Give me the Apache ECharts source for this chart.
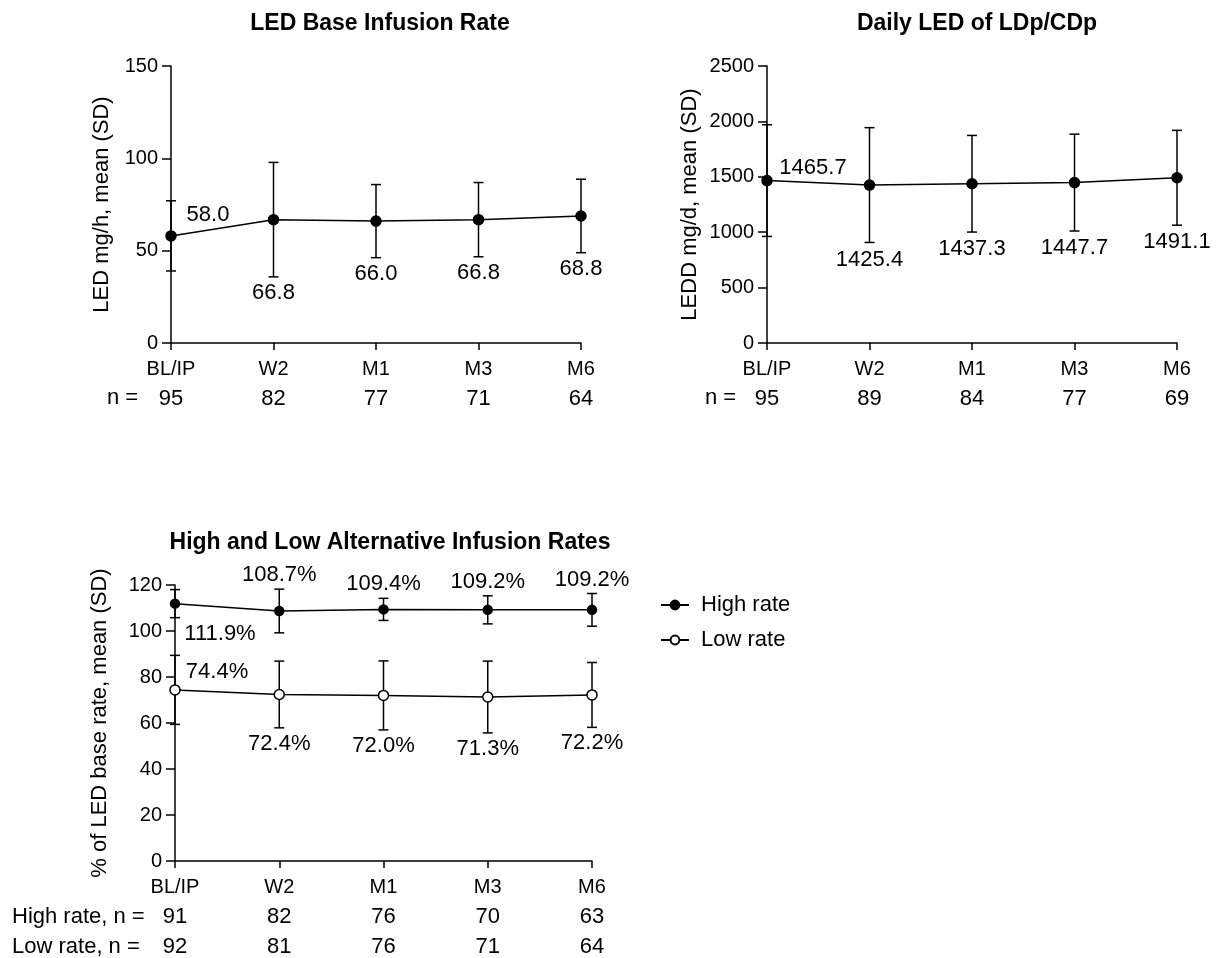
<!DOCTYPE html>
<html><head><meta charset="utf-8">
<script src="https://cdn.jsdelivr.net/npm/echarts@6/dist/echarts.min.js"></script>
<style>html,body{margin:0;padding:0;background:#fff}#c{width:1220px;height:958px}</style>
</head><body><div id="c"></div>
<script>
const categories = ['BL/IP', 'W2', 'M1', 'M3', 'M6'];

const baseRateMean = [58.0, 66.8, 66.0, 66.8, 68.8];
const baseRateSD   = [19.0, 31.0, 19.8, 20.1, 19.9];
const baseRateN    = [95, 82, 77, 71, 64];

const leddMean = [1465.7, 1425.4, 1437.3, 1447.7, 1491.1];
const leddSD   = [504, 518, 436, 437, 428];
const leddN    = [95, 89, 84, 77, 69];

const highMean = [111.9, 108.7, 109.4, 109.2, 109.2];
const highSD   = [6.1, 9.5, 4.8, 6.1, 7.1];
const highN    = [91, 82, 76, 70, 63];

const lowMean = [74.4, 72.4, 72.0, 71.3, 72.2];
const lowSD   = [15.0, 14.5, 15.0, 15.6, 14.1];
const lowN    = [92, 81, 76, 71, 64];

const titles = ['LED Base Infusion Rate', 'Daily LED of LDp/CDp', 'High and Low Alternative Infusion Rates'];
const yNames = ['LED mg/h, mean (SD)', 'LEDD mg/d, mean (SD)', '% of LED base rate, mean (SD)'];

const FONT = "'Liberation Sans', Arial, sans-serif";
const BLACK = '#000';

function errSeries(gridIdx, mean, sd, opt) {
  return {
    type: 'custom',
    xAxisIndex: gridIdx, yAxisIndex: gridIdx,
    z: 1,
    silent: true,
    data: mean.map((m, i) => [i, m, sd[i]]),
    renderItem: function (params, api) {
      const i = api.value(0), m = api.value(1), s = api.value(2);
      const top = api.coord([i, m + s]);
      const bot = api.coord([i, m - s]);
      const ctr = api.coord([i, m]);
      const hw = 5;
      const ls = { stroke: BLACK, lineWidth: 1.5 };
      let tx, ty;
      if (i === 0) { tx = ctr[0] + opt.first[0]; ty = ctr[1] + opt.first[1]; }
      else if (opt.side === 'above') { tx = top[0]; ty = top[1] - opt.gap; }
      else { tx = bot[0]; ty = bot[1] + opt.gap; }
      return {
        type: 'group',
        children: [
          { type: 'line', shape: { x1: top[0], y1: top[1], x2: bot[0], y2: bot[1] }, style: ls },
          { type: 'line', shape: { x1: top[0] - hw, y1: top[1], x2: top[0] + hw, y2: top[1] }, style: ls },
          { type: 'line', shape: { x1: bot[0] - hw, y1: bot[1], x2: bot[0] + hw, y2: bot[1] }, style: ls },
          { type: 'text', x: tx, y: ty, style: {
              text: m.toFixed(1) + (opt.suffix || ''), fill: BLACK, font: '22px ' + FONT,
              textAlign: 'center', textVerticalAlign: 'middle' } }
        ]
      };
    }
  };
}

function lineSeries(gridIdx, name, mean, hollow, size) {
  return {
    type: 'line', name: name,
    xAxisIndex: gridIdx, yAxisIndex: gridIdx,
    z: 3,
    data: mean,
    symbol: 'circle', symbolSize: size,
    showAllSymbol: true,
    lineStyle: { color: BLACK, width: 1.5 },
    itemStyle: { color: hollow ? '#fff' : BLACK, borderColor: BLACK, borderWidth: 1.5 },
    emphasis: { disabled: true },
    animation: false
  };
}

function xAxis(gridIdx, nRows) {
  const rich = { c: { fontSize: 20, fontFamily: FONT, color: BLACK, lineHeight: 30 },
                 n: { fontSize: 22, fontFamily: FONT, color: BLACK, lineHeight: 30 } };
  return {
    type: 'category', gridIndex: gridIdx, data: categories, boundaryGap: false,
    axisLine: { lineStyle: { color: BLACK, width: 1.5 } },
    axisTick: { length: 7, lineStyle: { color: BLACK, width: 1.5 } },
    axisLabel: {
      margin: 11, rich: rich, interval: 0,
      formatter: function (v, idx) {
        return '{c|' + v + '}' + nRows.map(r => '\n{n|' + r[idx] + '}').join('');
      }
    },
    splitLine: { show: false }
  };
}

function yAxis(gridIdx, min, max, interval, name, gap) {
  return {
    type: 'value', gridIndex: gridIdx, min: min, max: max, interval: interval,
    name: name, nameLocation: 'middle', nameGap: gap, nameRotate: 90,
    nameTextStyle: { fontSize: 22, fontFamily: FONT, color: BLACK },
    axisLine: { show: true, lineStyle: { color: BLACK, width: 1.5 } },
    axisTick: { show: true, length: 9, lineStyle: { color: BLACK, width: 1.5 } },
    axisLabel: { fontSize: 20, fontFamily: FONT, color: BLACK, margin: 13,
      formatter: v => String(v) },
    splitLine: { show: false }
  };
}

const chart = echarts.init(document.getElementById('c'), null, { renderer: 'canvas' });

function gtext(x, y, text, align, bold) {
  return { type: 'text', x: x, y: y, style: { text: text, fill: BLACK,
    font: (bold ? 'bold 23px ' : '22px ') + FONT,
    textAlign: align, textVerticalAlign: 'middle' } };
}

chart.setOption({
  animation: false,
  backgroundColor: '#fff',
  textStyle: { fontFamily: FONT },
  grid: [
    { left: 171, top: 66, width: 410, height: 277 },
    { left: 767, top: 66, width: 410, height: 277 },
    { left: 175, top: 585, width: 417, height: 278 }
  ],
  xAxis: [ xAxis(0, [baseRateN]), xAxis(1, [leddN]), xAxis(2, [highN, lowN]) ],
  yAxis: [
    yAxis(0, 0, 150, 50, yNames[0], 58),
    yAxis(1, 0, 2500, 500, yNames[1], 66),
    yAxis(2, 0, 120, 20, yNames[2], 64)
  ],
  legend: {
    data: ['High rate', 'Low rate'],
    orient: 'vertical', left: 655, top: 589,
    itemWidth: 28, itemHeight: 11, itemGap: 13,
    textStyle: { fontSize: 22, fontFamily: FONT, color: BLACK, padding: [0, 0, 0, 7] },
    selectedMode: false
  },
  graphic: [
    gtext(380, 24, titles[0], 'center', true),
    gtext(977, 24, titles[1], 'center', true),
    gtext(390, 543, titles[2], 'center', true),
    gtext(107, 398, 'n =', 'left'),
    gtext(705, 398, 'n =', 'left'),
    gtext(12, 917, 'High rate, n =', 'left'),
    gtext(12, 947, 'Low rate, n =', 'left')
  ],
  series: [
    errSeries(0, baseRateMean, baseRateSD, { side: 'below', gap: 16, first: [37, -21] }),
    lineSeries(0, 'LED base', baseRateMean, false, 10),
    errSeries(1, leddMean, leddSD, { side: 'below', gap: 17, first: [46, -13] }),
    lineSeries(1, 'LEDD', leddMean, false, 10),
    errSeries(2, highMean, highSD, { side: 'above', gap: 14, first: [45, 30], suffix: '%' }),
    lineSeries(2, 'High rate', highMean, false, 9),
    errSeries(2, lowMean, lowSD, { side: 'below', gap: 16, first: [42, -18], suffix: '%' }),
    lineSeries(2, 'Low rate', lowMean, true, 10)
  ]
});
</script>
</body></html>
